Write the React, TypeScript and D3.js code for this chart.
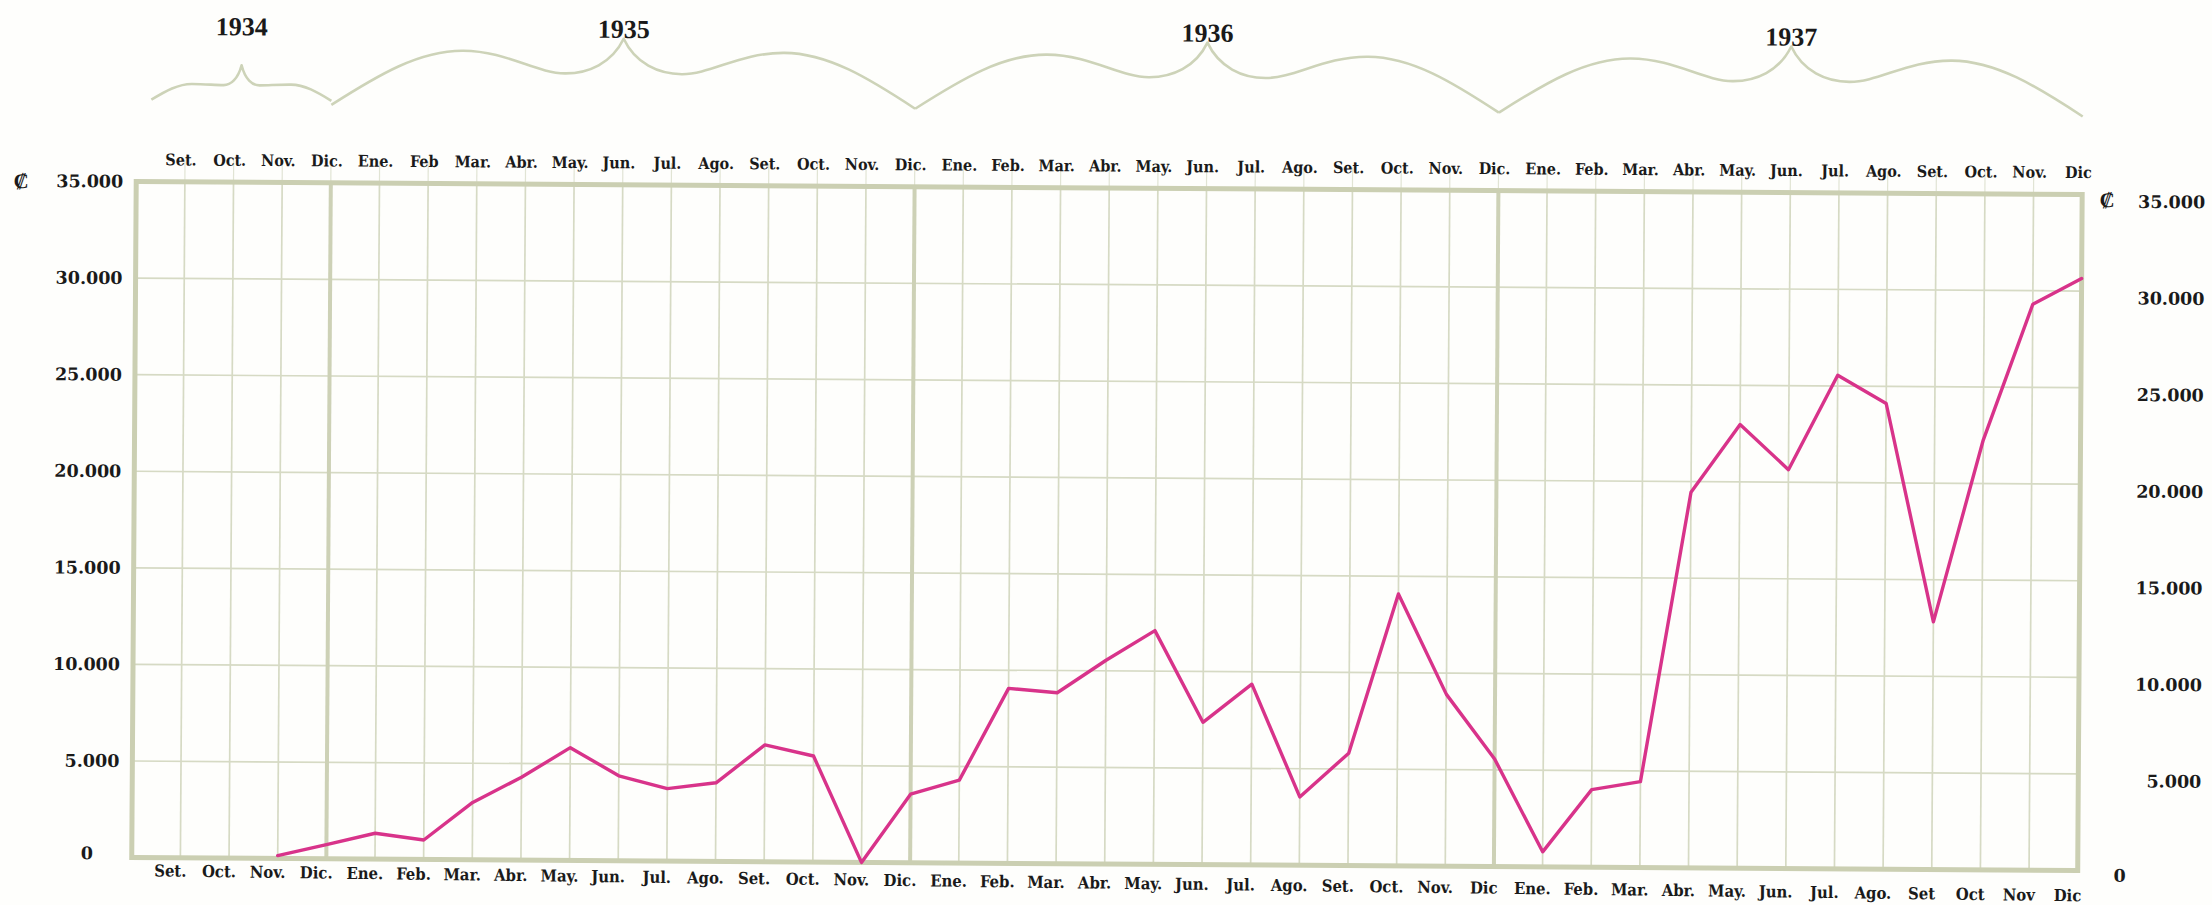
import React from "react";
import * as d3 from "d3";

// ---- data ----
const topMonths = [
  "Set.", "Oct.", "Nov.", "Dic.",
  "Ene.", "Feb", "Mar.", "Abr.", "May.", "Jun.", "Jul.", "Ago.", "Set.", "Oct.", "Nov.", "Dic.",
  "Ene.", "Feb.", "Mar.", "Abr.", "May.", "Jun.", "Jul.", "Ago.", "Set.", "Oct.", "Nov.", "Dic.",
  "Ene.", "Feb.", "Mar.", "Abr.", "May.", "Jun.", "Jul.", "Ago.", "Set.", "Oct.", "Nov.", "Dic",
];
const bottomMonths = [
  "Set.", "Oct.", "Nov.", "Dic.",
  "Ene.", "Feb.", "Mar.", "Abr.", "May.", "Jun.", "Jul.", "Ago.", "Set.", "Oct.", "Nov.", "Dic.",
  "Ene.", "Feb.", "Mar.", "Abr.", "May.", "Jun.", "Jul.", "Ago.", "Set.", "Oct.", "Nov.", "Dic",
  "Ene.", "Feb.", "Mar.", "Abr.", "May.", "Jun.", "Jul.", "Ago.", "Set", "Oct", "Nov", "Dic",
];
// colones, Set. 1934 .. Dic. 1937 (null = no data)
const values: (number | null)[] = [
  null, null, 150, 740,
  1340, 1010, 2970, 4290, 5840, 4400, 3750, 4070, 6050, 5490, 0, 3550,
  4290, 9060, 8850, 10550, 12100, 7370, 9360, 3540, 5820, 14080, 8900, 5570,
  780, 4020, 4450, 19450, 22970, 20650, 25560, 24110, 12820, 22250, 29300, 30650,
];
const yTicks = [0, 5000, 10000, 15000, 20000, 25000, 30000, 35000];
const yearLabels = ["1934", "1935", "1936", "1937"];
const yearStart = [-0.7, 3, 15, 27];
const yearEnd = [3, 15, 27, 39];
const decemberIdx = [3, 15, 27];

const W = 2212;
const H = 905;

const fmt = (v: number) => (v === 0 ? "0" : d3.format(",")(v).replace(/,/g, "."));

function bracePath(xa: number, xb: number, yEnd: number, yHump: number, yDip: number, yPeak: number) {
  const w = xb - xa;
  const xc = (xa + xb) / 2;
  const rise = yEnd - 0.55 * (yEnd - yHump);
  const cusp = yDip - 0.3 * (yDip - yPeak);
  const p = d3.path();
  p.moveTo(xa, yEnd);
  p.bezierCurveTo(xa + 0.08 * w, rise, xa + 0.15 * w, yHump, xa + 0.225 * w, yHump);
  p.bezierCurveTo(xa + 0.3 * w, yHump, xa + 0.35 * w, yDip, xa + 0.4 * w, yDip);
  p.bezierCurveTo(xa + 0.44 * w, yDip, xa + 0.48 * w, cusp, xc, yPeak);
  p.bezierCurveTo(xb - 0.48 * w, cusp, xb - 0.44 * w, yDip, xb - 0.4 * w, yDip);
  p.bezierCurveTo(xb - 0.35 * w, yDip, xb - 0.3 * w, yHump, xb - 0.225 * w, yHump);
  p.bezierCurveTo(xb - 0.15 * w, yHump, xb - 0.08 * w, rise, xb, yEnd);
  return p.toString();
}

export default function App() {
  const x = d3.scaleLinear().domain([-1, 39]).range([134, 2080]);
  const y = d3.scaleLinear().domain([0, 35000]).range([864, 188]);

  const line = d3
    .line<number | null>()
    .defined((d) => d !== null)
    .x((_, i) => x(i))
    .y((d) => y(d as number));

  const gridThin = "#d6dac4";
  const gridThick = "#cdd1b6";
  const border = "#cbcfb2";
  const braceCol = "#cdd3b8";
  const ink = "#1a1a1a";
  const numFont = "'DejaVu Serif', serif";
  const condFont = "'DejaVu Serif Condensed', 'DejaVu Serif', serif";
  const yearFont = "'Liberation Serif', 'Times New Roman', serif";

  const [x0, x1] = x.range();
  const yTop = y(35000);
  const yBot = y(0);

  return (
    <svg
      width={W}
      height={H}
      viewBox={`0 0 ${W} ${H}`}
      style={{ position: "absolute", left: 0, top: 0, background: "#fefefc", display: "block" }}
    >
      <g transform="rotate(0.38 1106 520)">
        {/* braces and years */}
        {yearLabels.map((yr, k) => {
          const xa = x(yearStart[k]);
          const xb = x(yearEnd[k]);
          const small = k === 0;
          return (
            <g key={yr}>
              <path
                d={small ? bracePath(xa, xb, 106, 90, 91, 71) : bracePath(xa, xb, 110, 55, 77, 42)}
                fill="none"
                stroke={braceCol}
                strokeWidth={2.6}
                strokeLinejoin="round"
              />
              <text
                x={(xa + xb) / 2}
                y={32}
                dy="0.35em"
                textAnchor="middle"
                fontFamily={yearFont}
                fontWeight="bold"
                fontSize={26}
                fill={ink}
              >
                {yr}
              </text>
            </g>
          );
        })}

        {/* horizontal grid */}
        {yTicks.filter((t) => t > 0 && t < 35000).map((t) => (
          <line key={"h" + t} x1={x0} x2={x1} y1={y(t)} y2={y(t)} stroke={gridThin} strokeWidth={1.7} />
        ))}
        {/* vertical grid */}
        {d3.range(0, 39).map((i) => {
          const thick = decemberIdx.includes(i);
          return (
            <g key={"v" + i}>
              <line x1={x(i)} x2={x(i)} y1={yTop - 22} y2={yTop} stroke={gridThin} strokeWidth={1.2} opacity={0.7} />
              <line
                x1={x(i)}
                x2={x(i)}
                y1={yTop}
                y2={yBot}
                stroke={thick ? gridThick : gridThin}
                strokeWidth={thick ? 4 : 1.7}
              />
            </g>
          );
        })}
        {/* border */}
        <rect x={x0} y={yTop} width={x1 - x0} height={yBot - yTop} fill="none" stroke={border} strokeWidth={5} />

        {/* data line */}
        <path
          d={line(values) || ""}
          fill="none"
          stroke="#d8338a"
          strokeWidth={3.4}
          strokeLinejoin="round"
          strokeLinecap="round"
        />

        {/* top month labels */}
        {topMonths.map((m, i) => (
          <text
            key={"tm" + i}
            x={x(i) - 4}
            y={166}
            dy="0.35em"
            textAnchor="middle"
            fontFamily={condFont}
            fontStretch="condensed"
            fontWeight="bold"
            fontSize={16}
            fill={ink}
          >
            {m}
          </text>
        ))}
        {/* bottom month labels */}
        {bottomMonths.map((m, i) => (
          <text
            key={"bm" + i}
            x={x(i) - 10}
            y={877 + (12 * i) / 39}
            dy="0.35em"
            textAnchor="middle"
            fontFamily={condFont}
            fontStretch="condensed"
            fontWeight="bold"
            fontSize={16.5}
            fill={ink}
          >
            {m}
          </text>
        ))}

        {/* left axis labels */}
        <text x={19} y={yTop} dy="0.35em" textAnchor="middle" fontFamily={numFont} fontWeight="bold" fontSize={21} fill={ink}>
          ₡
        </text>
        {yTicks.map((t) =>
          t === 0 ? (
            <text key={"l" + t} x={89} y={y(t) - 4} dy="0.35em" textAnchor="middle" fontFamily={numFont} fontWeight="bold" fontSize={17.5} fill={ink}>
              {fmt(t)}
            </text>
          ) : (
            <text key={"l" + t} x={121} y={y(t)} dy="0.35em" textAnchor="end" fontFamily={numFont} fontWeight="bold" fontSize={17.5} fill={ink}>
              {fmt(t)}
            </text>
          )
        )}

        {/* right axis labels */}
        <text x={2105} y={yTop + 5} dy="0.35em" textAnchor="middle" fontFamily={numFont} fontWeight="bold" fontSize={21} fill={ink}>
          ₡
        </text>
        {yTicks.map((t) =>
          t === 0 ? (
            <text key={"r" + t} x={2122} y={y(t) + 5} dy="0.35em" textAnchor="middle" fontFamily={numFont} fontWeight="bold" fontSize={17.5} fill={ink}>
              {fmt(t)}
            </text>
          ) : (
            <text key={"r" + t} x={2203} y={y(t) + 7} dy="0.35em" textAnchor="end" fontFamily={numFont} fontWeight="bold" fontSize={17.5} fill={ink}>
              {fmt(t)}
            </text>
          )
        )}
      </g>
    </svg>
  );
}
